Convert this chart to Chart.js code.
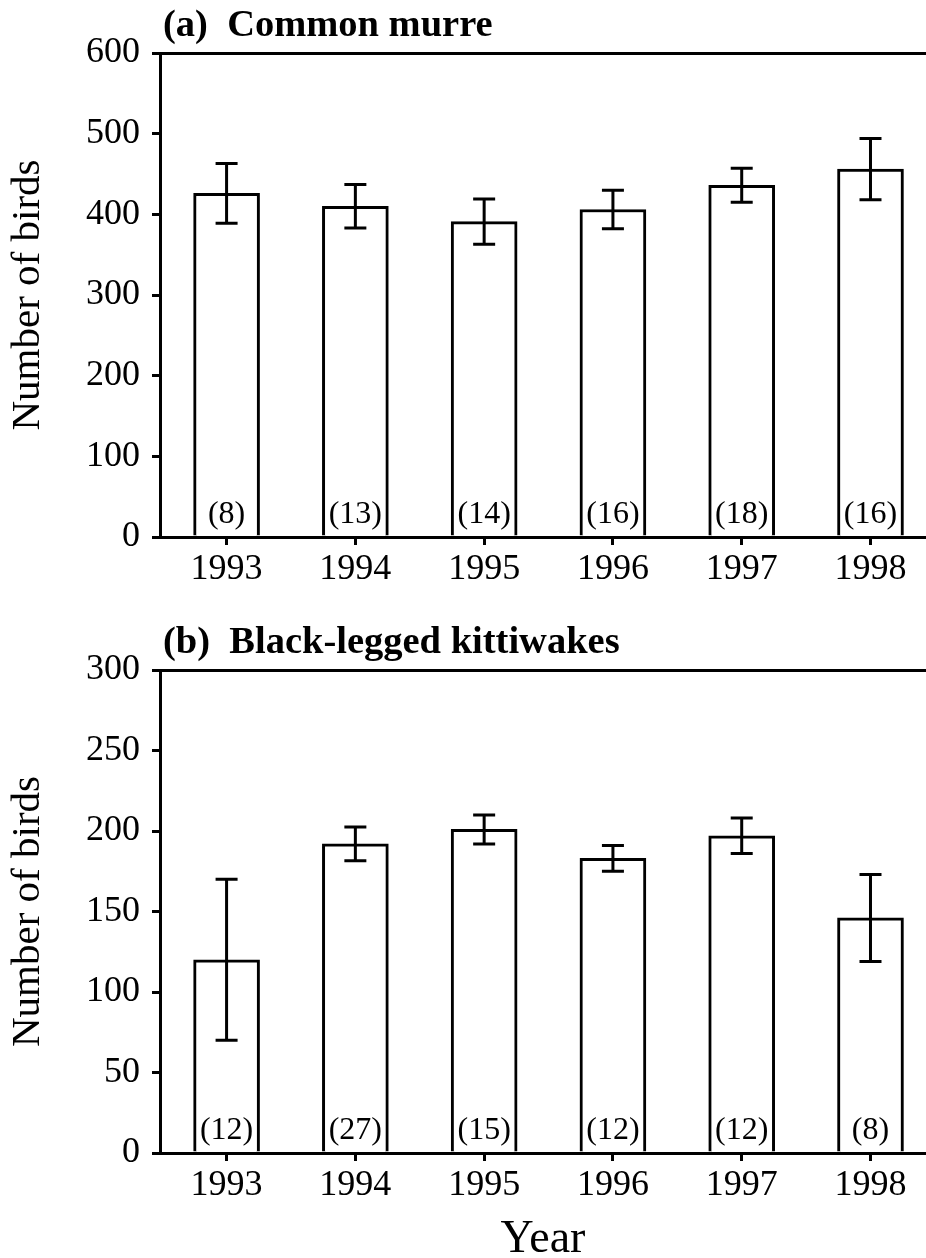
<!DOCTYPE html>
<html>
<head>
<meta charset="utf-8">
<title>Number of birds, 1993-1998</title>
<script src="https://cdn.jsdelivr.net/npm/chart.js@4.4.1/dist/chart.umd.min.js"></script>
<style>
    body { margin: 0; background: #fff; }
    #wrap { position: relative; width: 926px; height: 1258px; overflow: hidden; background: #fff; }
    canvas { position: absolute; left: 0; }
    #murreChart { top: 0; }
    #kittiwakeChart { top: 610px; }
</style>
</head>
<body>
<div id="wrap">
    <canvas id="murreChart" width="926" height="600"></canvas>
    <canvas id="kittiwakeChart" width="926" height="648"></canvas>
</div>
<script>
const years = [1993, 1994, 1995, 1996, 1997, 1998];

const murreMeans = [426, 410, 391, 406, 436, 456];
const murreErrors = [37, 27, 28, 24, 21, 38];
const murreCounts = [8, 13, 14, 16, 18, 16];
const murreTicks = [0, 100, 200, 300, 400, 500, 600];

const kittiwakeMeans = [120, 192, 201, 183, 197, 146];
const kittiwakeErrors = [50, 10.5, 9, 8, 11, 27];
const kittiwakeCounts = [12, 27, 15, 12, 12, 8];
const kittiwakeTicks = [0, 50, 100, 150, 200, 250, 300];

const serif = '"Liberation Serif", "Times New Roman", serif';

// error bars, sample sizes and the panel heading
function panelExtras(title, means, errors, counts) {
    return {
        id: 'panelExtras',
        afterDatasetsDraw(chart) {
            const ctx = chart.ctx;
            const x = chart.scales.x;
            const y = chart.scales.y;

            ctx.save();
            ctx.strokeStyle = '#000';
            ctx.lineWidth = 3;
            years.forEach((year, i) => {
                const px = x.getPixelForValue(year);
                const top = y.getPixelForValue(means[i] + errors[i]);
                const bottom = y.getPixelForValue(means[i] - errors[i]);
                ctx.beginPath();
                ctx.moveTo(px, top);
                ctx.lineTo(px, bottom);
                ctx.moveTo(px - 11, top);
                ctx.lineTo(px + 11, top);
                ctx.moveTo(px - 11, bottom);
                ctx.lineTo(px + 11, bottom);
                ctx.stroke();
            });

            ctx.fillStyle = '#000';
            ctx.font = '32px ' + serif;
            ctx.textAlign = 'center';
            ctx.textBaseline = 'bottom';
            years.forEach((year, i) => {
                ctx.fillText('(' + counts[i] + ')', x.getPixelForValue(year), y.getPixelForValue(0) - 6);
            });

            ctx.font = 'bold 38.5px ' + serif;
            ctx.textAlign = 'left';
            ctx.textBaseline = 'alphabetic';
            ctx.fillText(title, chart.chartArea.left + 3, chart.chartArea.top - 17);
            ctx.restore();
        }
    };
}

function drawPanel(canvasId, title, means, errors, counts, ticks, padTop, xHeight, showYear) {
    const ctx = document.getElementById(canvasId).getContext('2d');
    const yMax = ticks[ticks.length - 1];

    return new Chart(ctx, {
        type: 'bar',
        data: {
            datasets: [{
                data: years.map((year, i) => ({ x: year, y: means[i] })),
                backgroundColor: '#fff',
                borderColor: '#000',
                borderWidth: 3,
                barThickness: 66
            }]
        },
        options: {
            responsive: false,
            animation: false,
            layout: { padding: { top: padTop, right: 0, bottom: 0, left: 0 } },
            plugins: {
                legend: { display: false },
                tooltip: { enabled: false }
            },
            scales: {
                x: {
                    type: 'linear',
                    offset: false,
                    min: 1992.483,
                    max: 1998.431,
                    afterBuildTicks: axis => {
                        axis.ticks = years.map(v => ({ value: v }));
                    },
                    afterFit: axis => {
                        axis.height = xHeight;
                    },
                    border: { display: true, color: '#000', width: 3 },
                    grid: { offset: false, drawOnChartArea: false, tickLength: 8, tickWidth: 3, tickColor: '#000' },
                    ticks: {
                        color: '#000',
                        font: { family: serif, size: 36 },
                        padding: 3,
                        maxRotation: 0,
                        autoSkip: false,
                        callback: v => String(v)
                    },
                    title: {
                        display: showYear,
                        text: 'Year',
                        color: '#000',
                        font: { family: serif, size: 46, lineHeight: 1 },
                        padding: { top: 0, bottom: -5 }
                    }
                },
                y: {
                    min: ticks[0],
                    max: yMax,
                    afterBuildTicks: axis => {
                        axis.ticks = ticks.map(v => ({ value: v }));
                    },
                    afterFit: axis => {
                        axis.width = 160;
                    },
                    border: { display: true, color: '#000', width: 3 },
                    grid: {
                        // only the top line runs across the plot
                        color: c => (c.tick && c.tick.value === yMax) ? '#000' : 'rgba(0,0,0,0)',
                        lineWidth: 3,
                        tickLength: 8,
                        tickWidth: 3,
                        tickColor: '#000'
                    },
                    ticks: {
                        color: '#000',
                        font: { family: serif, size: 36 },
                        padding: 12
                    },
                    title: {
                        display: true,
                        text: 'Number of birds',
                        color: '#000',
                        font: { family: serif, size: 41 },
                        padding: { top: 4, bottom: 0 }
                    }
                }
            }
        },
        plugins: [panelExtras(title, means, errors, counts)]
    });
}

drawPanel('murreChart', '(a)  Common murre', murreMeans, murreErrors, murreCounts, murreTicks, 53, 63, false);
drawPanel('kittiwakeChart', '(b)  Black-legged kittiwakes', kittiwakeMeans, kittiwakeErrors, kittiwakeCounts, kittiwakeTicks, 60, 105, true);
</script>
</body>
</html>
